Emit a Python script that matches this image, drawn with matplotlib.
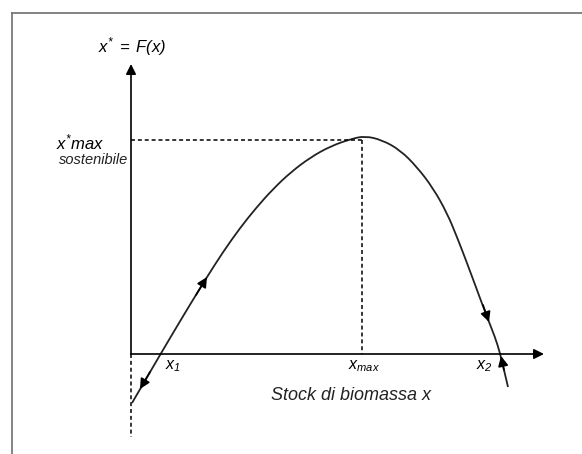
import matplotlib
matplotlib.use("Agg")
import matplotlib.pyplot as plt
from matplotlib.lines import Line2D
from matplotlib.path import Path
from matplotlib.patches import PathPatch

plt.rcParams['font.family'] = ['Liberation Sans', 'DejaVu Sans']
plt.rcParams['mathtext.fontset'] = 'custom'
plt.rcParams['mathtext.it'] = 'Liberation Sans:italic'
plt.rcParams['mathtext.rm'] = 'Liberation Sans:italic'

# Curve F(x) (arbitrary units, origin at the axes corner)
curve_x = [0.1, 1.5, 2.9, 4.5, 6.0, 7.6, 9.2, 10.9, 12.5, 14.2, 16.0,
           18.0, 20.0, 22.0, 23.4, 25.1, 26.9, 28.6, 30.2, 31.6, 32.6,
           33.6, 34.6, 35.6, 36.4, 36.9, 37.3, 37.7]
curve_y = [-4.9, -2.5, -0.1, 2.6, 5.1, 7.7, 10.2, 12.6, 14.6, 16.5, 18.2,
           19.7, 20.8, 21.5, 21.8, 21.4, 20.4, 18.7, 16.6, 14.1, 11.7,
           9.1, 6.4, 3.7, 1.7, 0.1, -1.6, -3.3]

x_max = 23.1
y_max = 21.4

# direction arrows along the curve: (tail, tip)
arrows = [((6.5, 5.9), (7.6, 7.7)),
          ((1.9, -1.8), (0.9, -3.5)),
          ((35.2, 4.9), (35.8, 3.2)),
          ((37.3, -1.6), (37.0, -0.2))]

fig = plt.figure(figsize=(5.82, 4.54), dpi=100)
ax = fig.add_axes([0, 0, 1, 1])
ax.set_xlim(-13.1, 45.1)
ax.set_ylim(-10.0, 35.4)
ax.axis('off')

# frame lines (top and left)
fig.add_artist(Line2D([12 / 582, 1], [1 - 13 / 454, 1 - 13 / 454],
                      transform=fig.transFigure, color='#7a7a7a', lw=1.3))
fig.add_artist(Line2D([12 / 582, 12 / 582], [0, 1 - 13 / 454],
                      transform=fig.transFigure, color='#7a7a7a', lw=1.3))

head = dict(arrowstyle='-|>', color='black', lw=1.2, mutation_scale=15,
            shrinkA=0, shrinkB=0)

# axes
ax.annotate('', xy=(0, 29.0), xytext=(0, 0), arrowprops=head)
ax.annotate('', xy=(41.3, 0), xytext=(0, 0), arrowprops=head)

# dashed guides
dash = (0, (2.6, 1.9))
ax.plot([0, 0], [0, -8.3], ls=dash, color='black', lw=1.1)
ax.plot([0, x_max], [y_max, y_max], ls=dash, color='black', lw=1.1)
ax.plot([x_max, x_max], [y_max, 0], ls=dash, color='black', lw=1.1)

# curve: smooth quadratic path through midpoints of the read points
pts = list(zip(curve_x, curve_y))
verts = [pts[0]]
codes = [Path.MOVETO]
for i in range(1, len(pts) - 1):
    mid = ((pts[i][0] + pts[i + 1][0]) / 2, (pts[i][1] + pts[i + 1][1]) / 2)
    verts += [pts[i], mid if i < len(pts) - 2 else pts[i + 1]]
    codes += [Path.CURVE3, Path.CURVE3]
ax.add_patch(PathPatch(Path(verts, codes), facecolor='none',
                       edgecolor='#222222', lw=1.3))

for (tail, tip) in arrows:
    ax.annotate('', xy=tip, xytext=tail, arrowprops=head)

# labels
ax.text(0.1, 30.7, r'$x^{*}\;=\;F(x)$', ha='center', va='center', fontsize=12)
ax.text(-5.1, 21.2, r'$x^{*}max$', ha='center', va='center', fontsize=12)
ax.text(-0.3, 19.4, 'sostenibile', ha='right', va='center', fontsize=10.5,
        style='italic', color='#222222')
ax.text(3.4, -1.2, r'$x_{1}$', ha='left', va='center', fontsize=11.5)
ax.text(23.3, -1.2, r'$x_{max}$', ha='center', va='center', fontsize=11.5)
ax.text(35.3, -1.2, r'$x_{2}$', ha='center', va='center', fontsize=11.5)
ax.text(22.0, -4.2, 'Stock di biomassa x', ha='center', va='center',
        fontsize=13, style='italic', color='#222222')

fig.savefig('out.png', dpi=100)
